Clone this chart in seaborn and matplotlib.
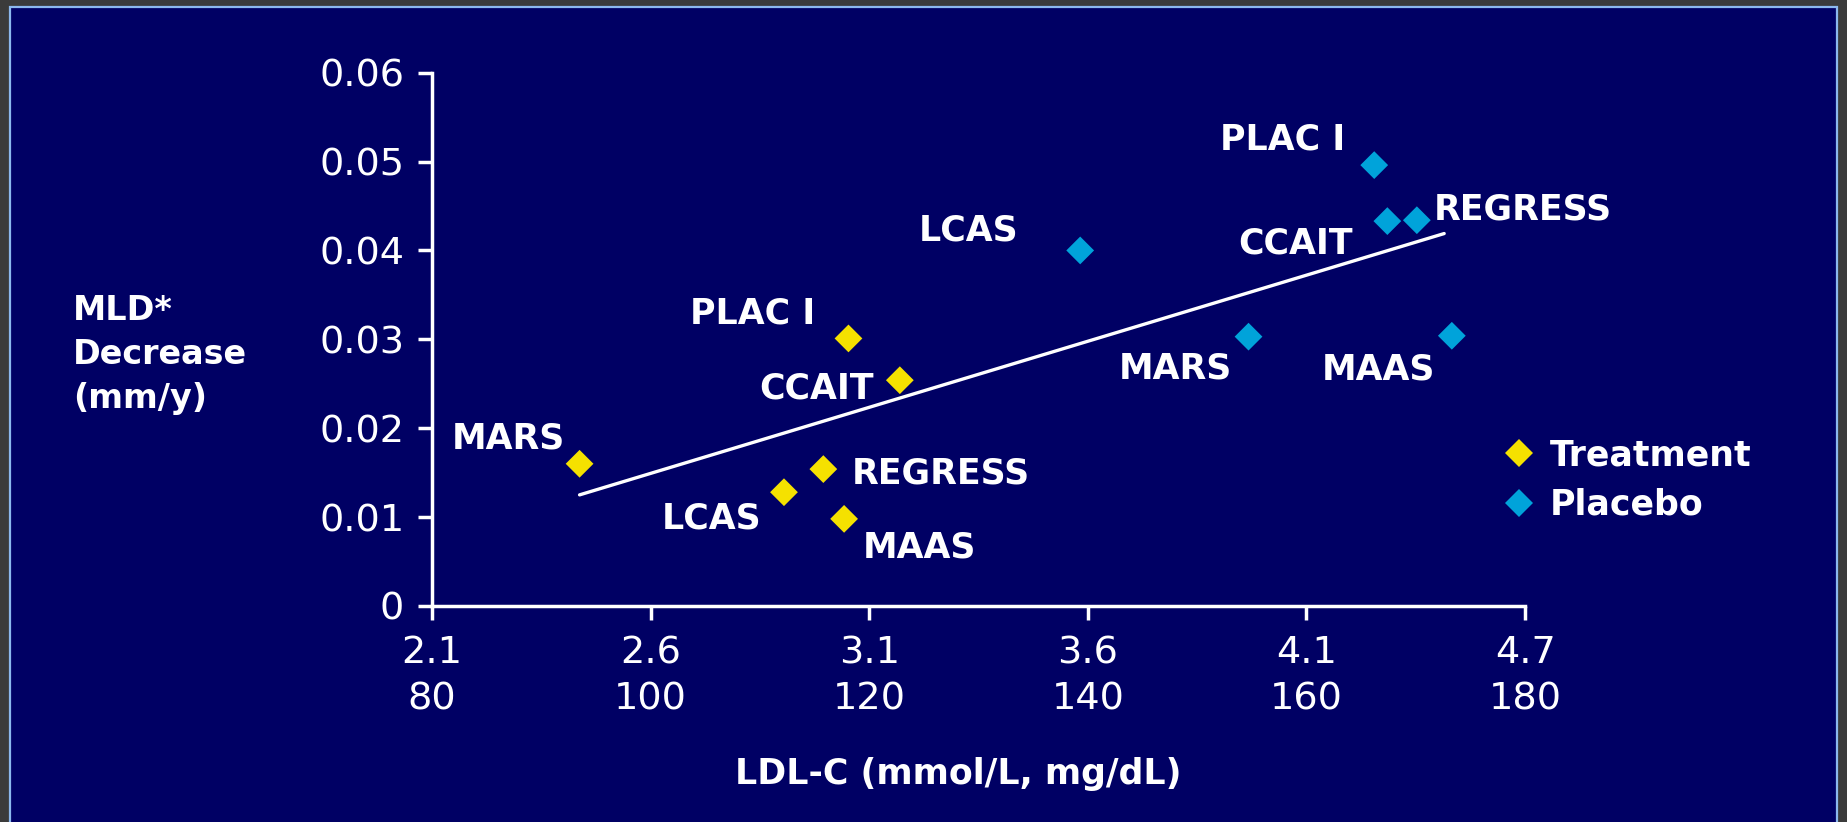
import pandas as pd
import numpy as np
import seaborn as sns
import matplotlib.pyplot as plt
from matplotlib.patches import Rectangle

# Study results (LDL-C in mg/dL, MLD decrease in mm/y)
studies = ['MARS', 'LCAS', 'REGRESS', 'MAAS', 'PLAC I', 'CCAIT']
treatment_ldl = [93.5, 112.2, 115.8, 117.7, 118.1, 122.8]
treatment_mld = [0.0160, 0.0128, 0.0154, 0.0098, 0.0301, 0.0254]
placebo_ldl = [154.7, 139.3, 170.1, 173.3, 166.2, 167.4]
placebo_mld = [0.0303, 0.0400, 0.0434, 0.0304, 0.0496, 0.0433]

# trend line end points as drawn on the slide
trend_ldl = [93.5, 172.6]
trend_mld = [0.0125, 0.0419]

# axis ticks: mmol/L on top line, mg/dL underneath
x_ticks_mgdl = [80, 100, 120, 140, 160, 180]
x_ticks_mmol = ['2.1', '2.6', '3.1', '3.6', '4.1', '4.7']
y_ticks = [0, 0.01, 0.02, 0.03, 0.04, 0.05, 0.06]
y_tick_labels = ['0', '0.01', '0.02', '0.03', '0.04', '0.05', '0.06']

df = pd.DataFrame({
    'LDL': treatment_ldl + placebo_ldl,
    'MLD': treatment_mld + placebo_mld,
    'Group': ['Treatment'] * len(studies) + ['Placebo'] * len(studies),
    'Study': studies + studies,
})

# label placement relative to each marker (pixels, ha)
label_offsets = {
    ('Treatment', 'MARS'): (-15, 15, 'right'),
    ('Treatment', 'LCAS'): (-23, -36, 'right'),
    ('Treatment', 'REGRESS'): (28, -14, 'left'),
    ('Treatment', 'MAAS'): (19, -39, 'left'),
    ('Treatment', 'PLAC I'): (-33, 15, 'right'),
    ('Treatment', 'CCAIT'): (-26, -18, 'right'),
    ('Placebo', 'MARS'): (-17, -42, 'right'),
    ('Placebo', 'LCAS'): (-62, 10, 'right'),
    ('Placebo', 'REGRESS'): (17, 1, 'left'),
    ('Placebo', 'MAAS'): (-17, -44, 'right'),
    ('Placebo', 'PLAC I'): (-29, 16, 'right'),
    ('Placebo', 'CCAIT'): (-35, -32, 'right'),
}

navy = '#000064'
yellow = '#F5E100'
blue = '#00A3DA'

sns.set_style('ticks')
plt.rcParams['font.family'] = ['DejaVu Sans']

fig = plt.figure(figsize=(18.47, 8.22), dpi=100, facecolor='#3b3b3b')
fig.add_artist(Rectangle((10 / 1847, -0.02), 1827 / 1847, 1.02 - 7 / 822,
                         transform=fig.transFigure, facecolor=navy,
                         edgecolor='#8cb8ee', linewidth=1.6, zorder=0))

ax = fig.add_axes([0.2339, 0.2628, 0.5918, 0.6488])
ax.set_facecolor(navy)

sns.lineplot(x=trend_ldl, y=trend_mld, color='white', linewidth=2.4, ax=ax)
sns.scatterplot(data=df, x='LDL', y='MLD', hue='Group',
                palette={'Treatment': yellow, 'Placebo': blue},
                marker='D', s=200, linewidth=0, ax=ax, zorder=3)

for _, row in df.iterrows():
    dx, dy, ha = label_offsets[(row['Group'], row['Study'])]
    ax.annotate(row['Study'], (row['LDL'], row['MLD']), xytext=(dx, dy),
                textcoords='offset pixels', ha=ha, va='baseline',
                color='white', fontsize=25, fontweight='bold')

ax.set_xlim(80, 180)
ax.set_ylim(0, 0.06)
ax.set_xticks(x_ticks_mgdl)
ax.set_xticklabels([f'{a}\n{b}' for a, b in zip(x_ticks_mmol, x_ticks_mgdl)])
ax.set_yticks(y_ticks)
ax.set_yticklabels(y_tick_labels)
ax.set_xlabel('')
ax.set_ylabel('')

for side in ['top', 'right']:
    ax.spines[side].set_visible(False)
for side in ['left', 'bottom']:
    ax.spines[side].set_color('white')
    ax.spines[side].set_linewidth(2.5)
ax.tick_params(axis='both', colors='white', labelsize=27.5, width=2.5, length=10)
ax.tick_params(axis='y', pad=10)
ax.tick_params(axis='x', pad=11)
for lbl in ax.get_xticklabels():
    lbl.set_linespacing(1.36)

handles, labels = ax.get_legend_handles_labels()
ax.legend(handles, labels, loc='upper left', bbox_to_anchor=(0.813, 0.467),
          bbox_transform=fig.transFigure, frameon=False, labelcolor='white',
          prop={'weight': 'bold', 'size': 25}, handlelength=1.0,
          handletextpad=0.4, labelspacing=0.45, borderpad=0, borderaxespad=0)

fig.text(73 / 1847, 1 - 294 / 822, 'MLD*\nDecrease\n(mm/y)', ha='left', va='top',
         color='white', fontsize=24, fontweight='bold', linespacing=1.42)
fig.text(958 / 1847, 1 - 774 / 822, 'LDL-C (mmol/L, mg/dL)', ha='center',
         va='center', color='white', fontsize=25, fontweight='bold')

fig.savefig('out.png', dpi=100, facecolor=fig.get_facecolor())
